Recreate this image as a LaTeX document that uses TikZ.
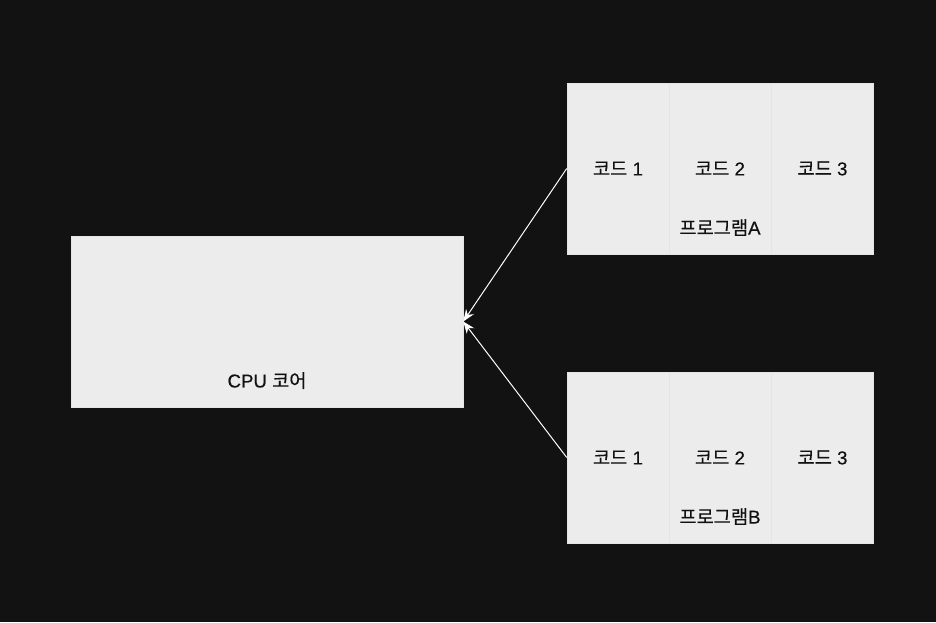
\documentclass[tikz,border=0pt]{standalone}
\usepackage{fontspec}
\setmainfont{Liberation Sans}[FakeBold=0.4]
\newfontfamily\kr{Noto Sans CJK KR}[FakeBold=0.4]
\usetikzlibrary{arrows.meta}
\definecolor{bgdark}{HTML}{121212}
\definecolor{boxgray}{HTML}{ECECEC}
\definecolor{edgegray}{HTML}{E4E4E4}
\definecolor{inkdark}{HTML}{111111}
\tikzset{
  cell/.style={draw=edgegray, line width=0.4pt, fill=boxgray, minimum width=76.5pt, minimum height=128.25pt, inner sep=0pt, text=inkdark, font=\fontsize{14}{16}\selectfont},
  label/.style={text=inkdark, inner sep=0pt, font=\fontsize{14}{16}\selectfont},
  link/.style={draw=white, line width=0.75pt, -{Stealth[length=9pt,width=7pt,inset=3pt]}}
}

\begin{document}
\begin{tikzpicture}[x=0.75pt, y=-0.75pt]
			%%%%% START %%%%%
			\fill[bgdark] (0, 0) rectangle (936, 622);
			\useasboundingbox (0, 0) rectangle (936, 622);
			
			\node[cell, minimum width=294pt] (cpu) at (267, 321.5) {};
			\node[label] (cpulbl) at (267, 380.5) {CPU {\kr 코어}};
			
			\node[cell] (a1) at (618, 168.5) {{\kr 코드} 1};
			\node[cell] (a2) at (720, 168.5) {{\kr 코드} 2};
			\node[cell] (a3) at (822.5, 168.5) {{\kr 코드} 3};
			\node[label] (albl) at (720, 227.5) {{\kr 프로그램}A};
			
			\node[cell] (b1) at (618, 457.5) {{\kr 코드} 1};
			\node[cell] (b2) at (720, 457.5) {{\kr 코드} 2};
			\node[cell] (b3) at (822.5, 457.5) {{\kr 코드} 3};
			\node[label] (blbl) at (720, 516.5) {{\kr 프로그램}B};
			
			\draw[link] (a1.west) -- (cpu.east);
			\draw[link] (b1.west) -- (cpu.east);
			%%%%% END %%%%%
		\end{tikzpicture}
\end{document}
